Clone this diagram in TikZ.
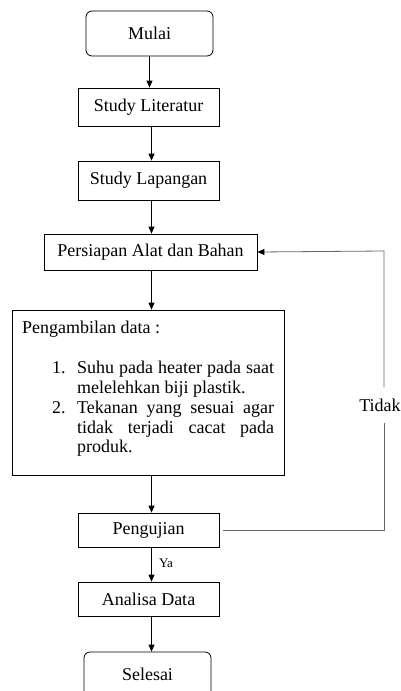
\documentclass[tikz,border=0pt]{standalone}
\usepackage{fontspec}
\setmainfont{Liberation Serif}
\usetikzlibrary{arrows.meta}
\begin{document}
\begin{tikzpicture}[x=1pt,y=-1pt, font=\fontsize{18}{22}\selectfont,
  box/.style={draw, line width=0.8pt, rectangle, minimum width=141pt, minimum height=38pt, inner sep=0pt},
  term/.style={box, rounded corners=6pt, minimum width=127pt, minimum height=45pt},
  arr/.style={-{Triangle[length=7pt,width=6pt,color=black]}, line width=0.8pt},
  fb/.style={line width=0.8pt, draw=black!60},
  lbl/.style={inner sep=0pt, anchor=base west}]
\useasboundingbox (0,0) rectangle (401,691);
\clip (0,0) rectangle (401,691);
\node[term] (mulai) at (149.5,33.5) {Mulai};
\node[box] (lit) at (148.5,107) {Study Literatur};
\node[box, minimum height=39pt] (lap) at (148.5,180.5) {Study Lapangan};
\node[box, minimum width=213pt, minimum height=36pt] (persiapan) at (150.5,252) {Persiapan Alat dan Bahan};
\node[box, minimum width=272pt, minimum height=165pt] (data) at (148,392.5) {};
\node[lbl] (t0) at (22,333) {Pengambilan data :};
\node[lbl] (n1) at (52,373) {1.};
\node[lbl] (t1) at (77,373) {\makebox[197pt][s]{Suhu pada heater pada saat}};
\node[lbl] (t2) at (77,393) {melelehkan biji plastik.};
\node[lbl] (n2) at (52,413) {2.};
\node[lbl] (t3) at (77,413) {\makebox[197pt][s]{Tekanan yang sesuai agar}};
\node[lbl] (t4) at (77,433) {\makebox[197pt][s]{tidak terjadi cacat pada}};
\node[lbl] (t5) at (77,452) {produk.};
\node[box, minimum height=34pt] (uji) at (148.5,530) {Pengujian};
\node[box, minimum height=34pt] (analisa) at (148.5,599) {Analisa Data};
\node[term] (selesai) at (147.5,674.5) {Selesai};

\draw[arr] (mulai.south) -- (mulai.south |- lit.north);
\draw[arr] ([xshift=3pt]lit.south) -- ([xshift=3pt]lap.north);
\draw[arr] ([xshift=3pt]lap.south) -- ([xshift=3pt]lap.south |- persiapan.north);
\draw[arr] ([xshift=1pt]persiapan.south) -- ([xshift=1pt]persiapan.south |- data.north);
\draw[arr] ([xshift=3pt]uji.north |- data.south) -- ([xshift=3pt]uji.north);
\draw[arr] ([xshift=3pt]uji.south) -- ([xshift=3pt]analisa.north);
\draw[arr] ([xshift=3pt]analisa.south) -- ([xshift=3pt]analisa.south |- selesai.north);
\node[font=\fontsize{13}{15}\selectfont, inner sep=0pt] (ya) at (166,563) {Ya};

\coordinate (c1) at (384,530);
\coordinate (c2) at (384,251);
\node[inner xsep=0pt, inner ysep=11pt] (tidak) at (380,405) {Tidak};
\draw[fb] ([xshift=4pt]uji.east) -- (c1) -- (tidak.south -| c1);
\draw[fb, arr] (tidak.north -| c1) -- (c2) -- (persiapan.east);
\end{tikzpicture}
\end{document}
